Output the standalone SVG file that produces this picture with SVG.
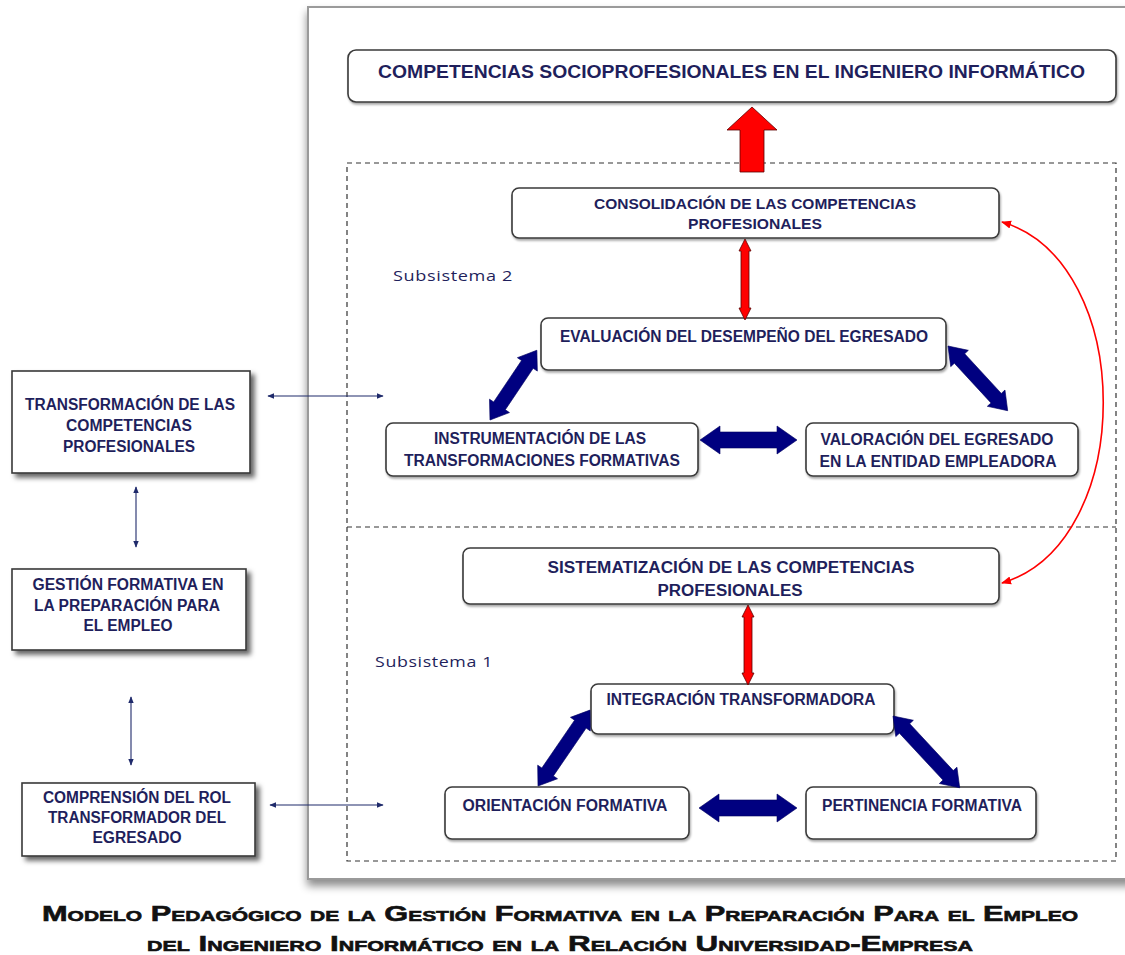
<svg xmlns="http://www.w3.org/2000/svg" width="1125" height="955" viewBox="0 0 1125 955">
<style>
.t{font-family:"Liberation Sans",Arial,sans-serif;font-weight:bold;fill:#1f1f5c;text-anchor:middle}
.box{fill:#fff;stroke:#3a3a3a;stroke-width:1.6}
.lbox{fill:#fff;stroke:#3a3a3a;stroke-width:1.6}
.dash{fill:none;stroke:#333;stroke-width:1.2;stroke-dasharray:5,4}
.navy{fill:#000080;stroke:#000060;stroke-width:0.6}
.red{fill:#ff0000;stroke:#5a0000;stroke-width:0.8}
.thin{stroke:#1f2a6b;stroke-width:1.1;fill:none}
.sub{font-family:"Open Sans","DejaVu Sans",sans-serif;font-size:14.5px;fill:#1f1f5c;letter-spacing:0.5px}
.cap{font-family:"Liberation Sans",Arial,sans-serif;font-weight:bold;font-variant:small-caps;fill:#111;stroke:#111;stroke-width:0.6;text-anchor:middle}
</style>
<defs>
<filter id="fs" x="-10%" y="-10%" width="130%" height="130%">
<feDropShadow dx="0" dy="6" stdDeviation="4" flood-color="#000" flood-opacity="0.45"/>
</filter>
<filter id="ls" x="-10%" y="-10%" width="130%" height="140%">
<feDropShadow dx="4" dy="4" stdDeviation="2.5" flood-color="#000" flood-opacity="0.6"/>
</filter>
<filter id="bs" x="-10%" y="-10%" width="130%" height="140%">
<feDropShadow dx="1" dy="2" stdDeviation="1.2" flood-color="#000" flood-opacity="0.35"/>
</filter>
<marker id="ah" viewBox="0 0 10 10" refX="9" refY="5" markerWidth="7" markerHeight="7" orient="auto-start-reverse" markerUnits="userSpaceOnUse">
<path d="M0,1 L10,5 L0,9 z" fill="#1f2a6b"/>
</marker>
<marker id="rh" viewBox="0 0 10 10" refX="9" refY="5" markerWidth="10" markerHeight="10" orient="auto-start-reverse" markerUnits="userSpaceOnUse">
<path d="M0,1 L10,5 L0,9 z" fill="#ff0000"/>
</marker>
</defs>
<rect width="1125" height="955" fill="#fff"/>

<g id="frame">
<rect x="308" y="7" width="840" height="872" fill="#fff" stroke="#9a9a9a" stroke-width="2" filter="url(#fs)"/>
<rect x="347" y="163" width="769" height="698" class="dash"/>
<line x1="347" y1="527" x2="1116" y2="527" class="dash"/>
<text class="sub" x="393" y="281" textLength="120" lengthAdjust="spacingAndGlyphs">Subsistema 2</text>
<text class="sub" x="375" y="667" textLength="118" lengthAdjust="spacingAndGlyphs">Subsistema 1</text>
</g>

<g id="n-top">
<rect class="box" x="348" y="50" width="768" height="52" rx="8" filter="url(#bs)"/>
<text class="t" x="731.5" y="78" font-size="18" textLength="707" lengthAdjust="spacingAndGlyphs">COMPETENCIAS SOCIOPROFESIONALES EN EL INGENIERO INFORMÁTICO</text>
</g>

<g id="n-consolidacion">
<rect class="box" x="512" y="188" width="487" height="50" rx="7" filter="url(#bs)"/>
<text class="t" x="755" y="209" font-size="15" textLength="322" lengthAdjust="spacingAndGlyphs">CONSOLIDACIÓN DE LAS COMPETENCIAS</text>
<text class="t" x="755" y="229" font-size="15" textLength="134" lengthAdjust="spacingAndGlyphs">PROFESIONALES</text>
</g>

<g id="n-evaluacion">
<rect class="box" x="541" y="318" width="405" height="52" rx="7" filter="url(#bs)"/>
<text class="t" x="744" y="342" font-size="16" textLength="368" lengthAdjust="spacingAndGlyphs">EVALUACIÓN DEL DESEMPEÑO DEL EGRESADO</text>
</g>

<g id="n-instrumentacion">
<rect class="box" x="386" y="423" width="312" height="53" rx="7" filter="url(#bs)"/>
<text class="t" x="540" y="444" font-size="16" textLength="212" lengthAdjust="spacingAndGlyphs">INSTRUMENTACIÓN DE LAS</text>
<text class="t" x="542" y="466" font-size="16" textLength="276" lengthAdjust="spacingAndGlyphs">TRANSFORMACIONES FORMATIVAS</text>
</g>

<g id="n-valoracion">
<rect class="box" x="806" y="423" width="272" height="53" rx="7" filter="url(#bs)"/>
<text class="t" x="937" y="445" font-size="16" textLength="233" lengthAdjust="spacingAndGlyphs">VALORACIÓN DEL EGRESADO</text>
<text class="t" x="938" y="467" font-size="16" textLength="237" lengthAdjust="spacingAndGlyphs">EN LA ENTIDAD EMPLEADORA</text>
</g>

<g id="n-sistematizacion">
<rect class="box" x="463" y="548" width="536" height="56" rx="7" filter="url(#bs)"/>
<text class="t" x="731" y="573" font-size="16" textLength="367" lengthAdjust="spacingAndGlyphs">SISTEMATIZACIÓN DE LAS COMPETENCIAS</text>
<text class="t" x="730" y="596" font-size="16" textLength="145" lengthAdjust="spacingAndGlyphs">PROFESIONALES</text>
</g>

<g id="n-integracion">
<rect class="box" x="591" y="684" width="303" height="50" rx="7" filter="url(#bs)"/>
<text class="t" x="741" y="705" font-size="16" textLength="269" lengthAdjust="spacingAndGlyphs">INTEGRACIÓN TRANSFORMADORA</text>
</g>

<g id="n-orientacion">
<rect class="box" x="445" y="787" width="244" height="52" rx="7" filter="url(#bs)"/>
<text class="t" x="565" y="811" font-size="16" textLength="205" lengthAdjust="spacingAndGlyphs">ORIENTACIÓN FORMATIVA</text>
</g>

<g id="n-pertinencia">
<rect class="box" x="806" y="787" width="230" height="52" rx="7" filter="url(#bs)"/>
<text class="t" x="922" y="811" font-size="16" textLength="200" lengthAdjust="spacingAndGlyphs">PERTINENCIA FORMATIVA</text>
</g>

<g id="n-transformacion">
<rect class="lbox" x="12" y="371" width="238" height="102" filter="url(#ls)"/>
<text class="t" x="130" y="410" font-size="16" textLength="210" lengthAdjust="spacingAndGlyphs">TRANSFORMACIÓN DE LAS</text>
<text class="t" x="129" y="431" font-size="16" textLength="126" lengthAdjust="spacingAndGlyphs">COMPETENCIAS</text>
<text class="t" x="129" y="452" font-size="16" textLength="132" lengthAdjust="spacingAndGlyphs">PROFESIONALES</text>
</g>

<g id="n-gestion">
<rect class="lbox" x="12" y="569" width="234" height="81" filter="url(#ls)"/>
<text class="t" x="128" y="590" font-size="16" textLength="191" lengthAdjust="spacingAndGlyphs">GESTIÓN FORMATIVA EN</text>
<text class="t" x="127" y="611" font-size="16" textLength="186" lengthAdjust="spacingAndGlyphs">LA PREPARACIÓN PARA</text>
<text class="t" x="128" y="631" font-size="16" textLength="89" lengthAdjust="spacingAndGlyphs">EL EMPLEO</text>
</g>

<g id="n-comprension">
<rect class="lbox" x="22" y="783" width="233" height="73" filter="url(#ls)"/>
<text class="t" x="137" y="803" font-size="16" textLength="188" lengthAdjust="spacingAndGlyphs">COMPRENSIÓN DEL ROL</text>
<text class="t" x="137" y="823" font-size="16" textLength="178" lengthAdjust="spacingAndGlyphs">TRANSFORMADOR DEL</text>
<text class="t" x="137" y="843" font-size="16" textLength="89" lengthAdjust="spacingAndGlyphs">EGRESADO</text>
</g>

<g id="connectors">
<polygon class="red" points="752,107 777,130 764,130 764,172 740,172 740,130 727,130"/>
<polygon class="red" points="745,239 751,251 749,251 749,308 751,308 745,320 739,308 741,308 741,251 739,251"/>
<polygon class="red" points="748,605 754,617 752,617 752,673 754,673 748,685 742,673 744,673 744,617 742,617"/>
<path d="M1002,222 C1137,262 1137,543 1002,583" fill="none" stroke="#ff0000" stroke-width="1.6" marker-start="url(#rh)" marker-end="url(#rh)"/>
<g class="navy">
<polygon transform="translate(700,440)" points="0,0 20,-14 20,-8 77,-8 77,-14 97,0 77,14 77,8 20,8 20,14"/>
<polygon transform="translate(490,420) rotate(-56.1)" points="0,0 17,-12 17,-7 67,-7 67,-12 84,0 67,12 67,7 17,7 17,12"/>
<polygon transform="translate(948,346) rotate(47.3)" points="0,0 17,-12 17,-7 71,-7 71,-12 88,0 71,12 71,7 17,7 17,12"/>
<polygon transform="translate(699,808)" points="0,0 20,-14 20,-8 78,-8 78,-14 98,0 78,14 78,8 20,8 20,14"/>
<polygon transform="translate(538,786) rotate(-55.6)" points="0,0 17,-12 17,-7 75,-7 75,-12 92,0 75,12 75,7 17,7 17,12"/>
<polygon transform="translate(893,716) rotate(47.1)" points="0,0 17,-12 17,-7 81,-7 81,-12 98,0 81,12 81,7 17,7 17,12"/>
</g>
<line class="thin" x1="268" y1="396" x2="383" y2="396" marker-start="url(#ah)" marker-end="url(#ah)"/>
<line class="thin" x1="270" y1="805" x2="383" y2="805" marker-start="url(#ah)" marker-end="url(#ah)"/>
<line class="thin" x1="136" y1="487" x2="136" y2="547" marker-start="url(#ah)" marker-end="url(#ah)"/>
<line class="thin" x1="131" y1="697" x2="131" y2="765" marker-start="url(#ah)" marker-end="url(#ah)"/>
</g>

<g id="caption">
<text class="cap" x="560" y="921" font-size="22" textLength="1036" lengthAdjust="spacingAndGlyphs">Modelo Pedagógico de la Gestión Formativa en la Preparación Para el Empleo</text>
<text class="cap" x="560" y="951" font-size="22" textLength="826" lengthAdjust="spacingAndGlyphs">del Ingeniero Informático en la Relación Universidad-Empresa</text>
</g>
</svg>
